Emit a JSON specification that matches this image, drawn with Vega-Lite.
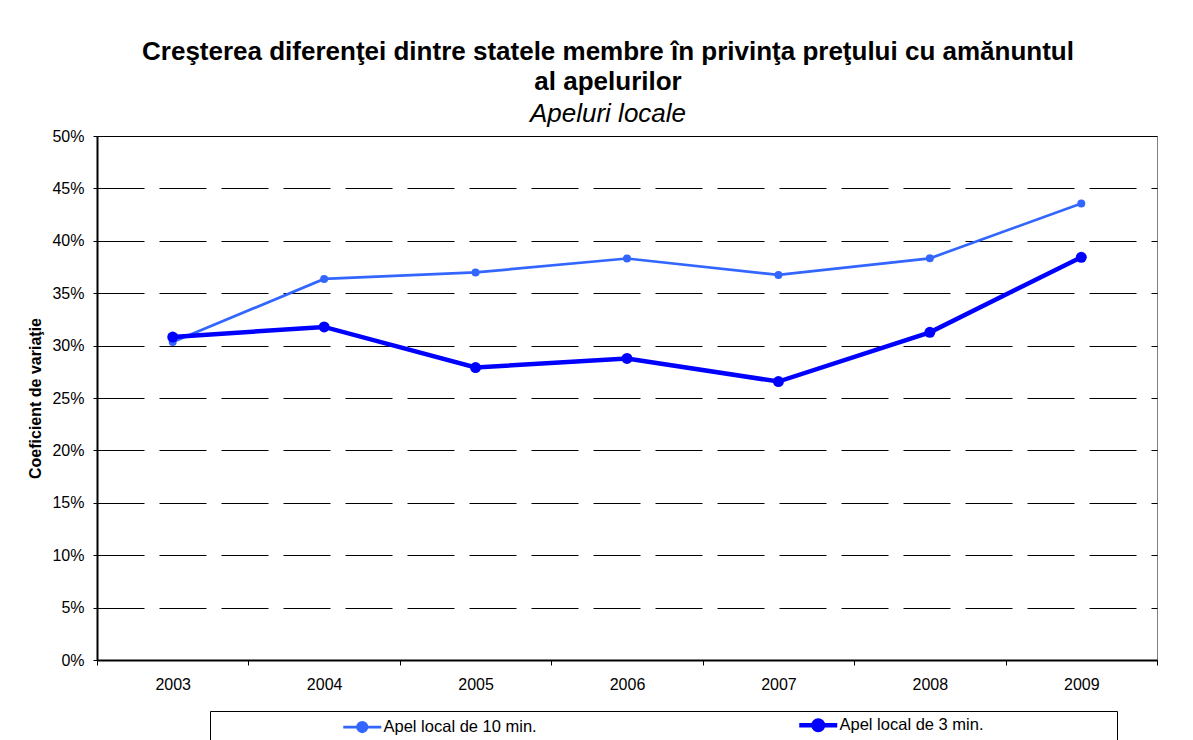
{
  "$schema": "https://vega.github.io/schema/vega-lite/v6.json",
  "width": 1060,
  "height": 524,
  "autosize": {"type": "none"},
  "padding": {"left": 97, "top": 136, "right": 36, "bottom": 80},
  "background": "white",
  "config": {
    "font": "Liberation Sans",
    "view": {"stroke": "#808080", "strokeWidth": 1}
  },
  "title": {
    "text": ["Creşterea diferenţei dintre statele membre în privinţa preţului cu amănuntul", "al apelurilor"],
    "subtitle": "Apeluri locale",
    "font": "Liberation Sans",
    "fontSize": 26,
    "fontWeight": "bold",
    "color": "black",
    "lineHeight": 30,
    "subtitleFont": "Liberation Sans",
    "subtitleFontSize": 26,
    "subtitleFontStyle": "italic",
    "subtitleColor": "black",
    "subtitlePadding": 6,
    "anchor": "middle",
    "dx": -19,
    "offset": 1
  },
  "data": {
    "values": [
      {"year": "2003", "series": "Apel local de 10 min.", "value": 0.3034},
      {"year": "2004", "series": "Apel local de 10 min.", "value": 0.3636},
      {"year": "2005", "series": "Apel local de 10 min.", "value": 0.3698},
      {"year": "2006", "series": "Apel local de 10 min.", "value": 0.3831},
      {"year": "2007", "series": "Apel local de 10 min.", "value": 0.3674},
      {"year": "2008", "series": "Apel local de 10 min.", "value": 0.3833},
      {"year": "2009", "series": "Apel local de 10 min.", "value": 0.4356},
      {"year": "2003", "series": "Apel local de 3 min.", "value": 0.3082},
      {"year": "2004", "series": "Apel local de 3 min.", "value": 0.3178},
      {"year": "2005", "series": "Apel local de 3 min.", "value": 0.2791},
      {"year": "2006", "series": "Apel local de 3 min.", "value": 0.2877},
      {"year": "2007", "series": "Apel local de 3 min.", "value": 0.2657},
      {"year": "2008", "series": "Apel local de 3 min.", "value": 0.3127},
      {"year": "2009", "series": "Apel local de 3 min.", "value": 0.3843}
    ]
  },
  "encoding": {
    "x": {
      "field": "year",
      "type": "ordinal",
      "scale": {"type": "band", "paddingInner": 0, "paddingOuter": 0},
      "axis": {
        "title": null,
        "labelAngle": 0,
        "labelFont": "Liberation Sans",
        "labelFontSize": 16,
        "labelColor": "black",
        "labelPadding": 11,
        "tickBand": "extent",
        "tickSize": 5,
        "tickColor": "black",
        "domainColor": "black",
        "domainWidth": 2,
        "grid": false
      }
    },
    "y": {
      "field": "value",
      "type": "quantitative",
      "scale": {"domain": [0, 0.5], "nice": false, "zero": true},
      "axis": {
        "title": "Coeficient de variaţie",
        "titleFont": "Liberation Sans",
        "titleFontSize": 16,
        "titleFontWeight": "bold",
        "titleColor": "black",
        "titlePadding": 8,
        "format": ".0%",
        "values": [0, 0.05, 0.1, 0.15, 0.2, 0.25, 0.3, 0.35, 0.4, 0.45, 0.5],
        "labelFont": "Liberation Sans",
        "labelFontSize": 16,
        "labelColor": "black",
        "labelPadding": 9,
        "tickSize": 4,
        "tickColor": "black",
        "domainColor": "black",
        "domainWidth": 2,
        "grid": true,
        "gridColor": "black",
        "gridWidth": 1,
        "gridOpacity": 1,
        "gridDash": {"condition": {"test": "datum.value === 0.5", "value": []}, "value": [47, 15]}
      }
    },
    "color": {
      "field": "series",
      "type": "nominal",
      "scale": {"domain": ["Apel local de 10 min.", "Apel local de 3 min."], "range": ["#3366FF", "#0000FF"]},
      "legend": {
        "title": " ",
        "titleOrient": "right",
        "titlePadding": 128,
        "orient": "none",
        "legendX": 113,
        "legendY": 575,
        "direction": "horizontal",
        "columns": 2,
        "padding": 6,
        "strokeColor": "black",
        "fillColor": "white",
        "symbolType": "M-1,0H1M-0.25,0A0.25,0.25 0 1,1 0.25,0A0.25,0.25 0 1,1 -0.25,0Z",
        "symbolSize": 1444,
        "symbolOffset": 138,
        "labelOffset": 13,
        "columnPadding": 135,
        "labelFont": "Liberation Sans",
        "labelFontSize": 16.5,
        "labelColor": "black",
        "encode": {
          "symbols": {
            "update": {
              "fill": {"signal": "datum.value == 'Apel local de 3 min.' ? '#0000FF' : '#3366FF'"},
              "stroke": {"signal": "datum.value == 'Apel local de 3 min.' ? '#0000FF' : '#3366FF'"},
              "strokeWidth": {"signal": "datum.value == 'Apel local de 3 min.' ? 4.5 : 2.7"},
              "fillOpacity": {"value": 1},
              "strokeOpacity": {"value": 1}
            }
          }
        }
      }
    }
  },
  "layer": [
    {
      "transform": [{"filter": "datum.series == 'Apel local de 10 min.'"}],
      "mark": {"type": "line", "strokeWidth": 2.7},
      "encoding": {}
    },
    {
      "transform": [{"filter": "datum.series == 'Apel local de 10 min.'"}],
      "mark": {"type": "point", "filled": true, "opacity": 1, "size": 64},
      "encoding": {}
    },
    {
      "transform": [{"filter": "datum.series == 'Apel local de 3 min.'"}],
      "mark": {"type": "line", "strokeWidth": 4.5},
      "encoding": {}
    },
    {
      "transform": [{"filter": "datum.series == 'Apel local de 3 min.'"}],
      "mark": {"type": "point", "filled": true, "opacity": 1, "size": 120},
      "encoding": {}
    }
  ]
}
